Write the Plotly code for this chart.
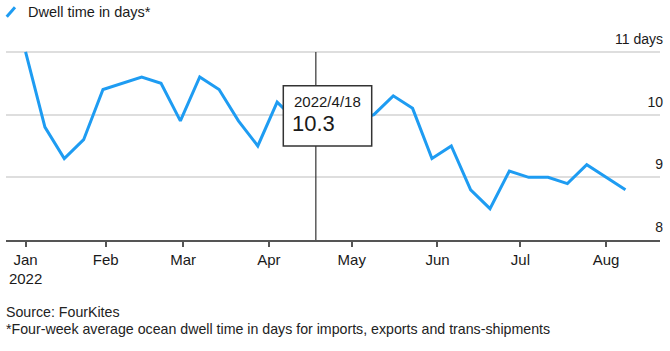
import plotly.graph_objects as go

# ---- data ----
dates = ["2022-01-03", "2022-01-10", "2022-01-17", "2022-01-24", "2022-01-31",
         "2022-02-07", "2022-02-14", "2022-02-21", "2022-02-28", "2022-03-07",
         "2022-03-14", "2022-03-21", "2022-03-28", "2022-04-04", "2022-04-11",
         "2022-04-18", "2022-04-25", "2022-05-02", "2022-05-09", "2022-05-16",
         "2022-05-23", "2022-05-30", "2022-06-06", "2022-06-13", "2022-06-20",
         "2022-06-27", "2022-07-04", "2022-07-11", "2022-07-18", "2022-07-25",
         "2022-08-01", "2022-08-08"]
dwell_days = [11.0, 9.8, 9.3, 9.6, 10.4,
              10.5, 10.6, 10.5, 9.9, 10.6,
              10.4, 9.9, 9.5, 10.2, 9.9,
              10.3, 10.2, 9.9, 10.0, 10.3,
              10.1, 9.3, 9.5, 8.8, 8.5,
              9.1, 9.0, 9.0, 8.9, 9.2,
              9.0, 8.8]

x_tickvals = ["2022-01-03", "2022-02-01", "2022-03-01", "2022-04-01",
              "2022-05-01", "2022-06-01", "2022-07-01", "2022-08-01"]
x_ticktext = ["Jan<br>2022", "Feb", "Mar", "Apr", "May", "Jun", "Jul", "Aug"]
y_tickvals = [8, 9, 10, 11]
y_ticktext = ["8", "9", "10", "11 days"]

series_name = "Dwell time in days*"
hover_index = 15  # 2022/4/18
source_text = "Source: FourKites"
note_text = "*Four-week average ocean dwell time in days for imports, exports and trans-shipments"

BLUE = "#1e9cf2"
FONT = "Liberation Sans, Arial, sans-serif"
TXT = "#1a1a1a"

fig = go.Figure()
fig.add_trace(go.Scatter(
    x=dates, y=dwell_days, mode="lines", name=series_name,
    line=dict(color=BLUE, width=3), showlegend=False, hoverinfo="skip"))

# plot-area geometry (pixels); y range extended above 11 so the top label fits
Y_MIN, Y_MAX = 8, 11.35
L, R, B = 6, 10, 111
W, H = 670, 351
unit = 62.67
T = round(H - B - (Y_MAX - Y_MIN) * unit)
pw, ph = W - L - R, H - T - B

def px(xp):
    return (xp - L) / pw

def py(yp):
    return (H - B - yp) / ph

fig.update_layout(
    width=W, height=H,
    margin=dict(l=L, r=R, t=T, b=B, pad=0),
    paper_bgcolor="white", plot_bgcolor="white",
    font=dict(family=FONT, color=TXT),
    hovermode=False,
    xaxis=dict(
        type="date", range=["2021-12-26 22:00", "2022-08-20 12:00"],
        tickmode="array", tickvals=x_tickvals, ticktext=x_ticktext,
        showgrid=False, showline=True, linecolor="#555", linewidth=1.5,
        ticks="outside", ticklen=5, tickwidth=1.5, tickcolor="#555",
        tickfont=dict(size=15, color=TXT, family=FONT), zeroline=False,
    ),
    yaxis=dict(
        range=[Y_MIN, Y_MAX], side="right",
        tickmode="array", tickvals=y_tickvals, ticktext=y_ticktext,
        ticklabelposition="inside top", ticklabelstandoff=-6, ticklabelshift=-3,
        showgrid=True, gridcolor="#dedede", gridwidth=1.5,
        zeroline=False, showline=False, ticks="",
        tickfont=dict(size=14, color=TXT, family=FONT),
    ),
)

# crosshair at hovered point
hx = dates[hover_index]
fig.add_shape(type="line", xref="x", yref="y", x0=hx, x1=hx, y0=8, y1=11,
              line=dict(color="#333", width=1.2), layer="above")

# tooltip box
fig.add_shape(type="rect", xref="paper", yref="paper",
              x0=px(283.3), x1=px(371.7), y0=py(146), y1=py(85.7),
              fillcolor="white", line=dict(color="#333", width=1.5), layer="above")
y_, m_, d_ = hx.split("-")
fig.add_annotation(xref="paper", yref="paper", x=px(291.5), y=py(101),
                   xanchor="left", yanchor="middle", showarrow=False,
                   text=f"{int(y_)}/{int(m_)}/{int(d_)}",
                   font=dict(size=15, color=TXT, family=FONT))
fig.add_annotation(xref="paper", yref="paper", x=px(289.5), y=py(124),
                   xanchor="left", yanchor="middle", showarrow=False,
                   text=f"{dwell_days[hover_index]:.1f}",
                   font=dict(size=22, color=TXT, family=FONT))

# legend (slash icon + label)
fig.add_shape(type="line", xref="paper", yref="paper",
              x0=px(6.7), y0=py(16.7), x1=px(15), y1=py(7.3),
              line=dict(color=BLUE, width=3))
fig.add_annotation(xref="paper", yref="paper", x=px(25.5), y=py(11.5),
                   xanchor="left", yanchor="middle", showarrow=False,
                   text=series_name, font=dict(size=14.5, color=TXT, family=FONT))

# footer
fig.add_annotation(xref="paper", yref="paper", x=px(4), y=py(312),
                   xanchor="left", yanchor="middle", showarrow=False,
                   text=source_text, font=dict(size=14.2, color="#222", family=FONT))
fig.add_annotation(xref="paper", yref="paper", x=px(4), y=py(328.5),
                   xanchor="left", yanchor="middle", showarrow=False,
                   text=note_text, font=dict(size=14.2, color="#222", family=FONT))

fig.write_html("out.html")
